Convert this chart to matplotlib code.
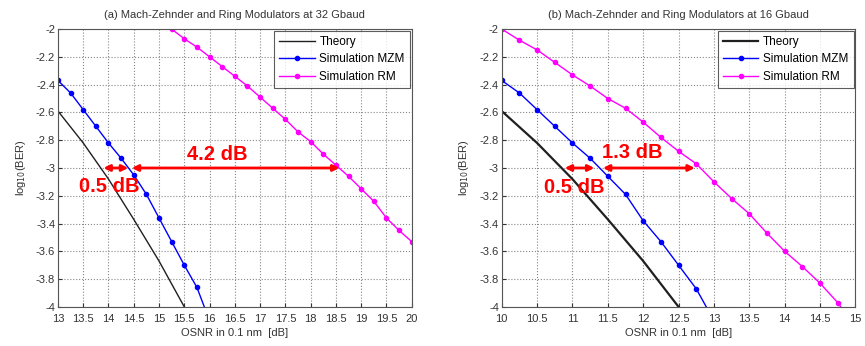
import matplotlib.pyplot as plt

plt.rcParams["font.family"] = ["Liberation Sans", "DejaVu Sans"]

# (a) 32 Gbaud
osnr_th_a = [13.0, 13.5, 14.0, 14.5, 15.0, 15.5]
ber_th_a = [-2.59, -2.82, -3.08, -3.37, -3.67, -4.00]
osnr_mzm_a = [13.0, 13.25, 13.5, 13.75, 14.0, 14.25, 14.5, 14.75, 15.0, 15.25, 15.5, 15.75, 16.0]
ber_mzm_a = [-2.37, -2.46, -2.58, -2.70, -2.82, -2.93, -3.05, -3.19, -3.36, -3.53, -3.70, -3.86, -4.10]
osnr_rm_a = [15.25, 15.5, 15.75, 16.0, 16.25, 16.5, 16.75, 17.0, 17.25, 17.5, 17.75, 18.0,
             18.25, 18.5, 18.75, 19.0, 19.25, 19.5, 19.75, 20.0]
ber_rm_a = [-2.00, -2.07, -2.13, -2.20, -2.27, -2.34, -2.41, -2.49, -2.57, -2.65, -2.74, -2.81,
            -2.90, -2.98, -3.06, -3.15, -3.24, -3.36, -3.45, -3.53]

# (b) 16 Gbaud
osnr_th_b = [10.0, 10.5, 11.0, 11.5, 12.0, 12.5]
ber_th_b = [-2.59, -2.82, -3.08, -3.37, -3.67, -4.00]
osnr_mzm_b = [10.0, 10.25, 10.5, 10.75, 11.0, 11.25, 11.5, 11.75, 12.0, 12.25, 12.5, 12.75, 13.0]
ber_mzm_b = [-2.37, -2.46, -2.58, -2.70, -2.82, -2.93, -3.06, -3.19, -3.38, -3.53, -3.70, -3.87, -4.10]
osnr_rm_b = [10.0, 10.25, 10.5, 10.75, 11.0, 11.25, 11.5, 11.75, 12.0, 12.25, 12.5, 12.75,
             13.0, 13.25, 13.5, 13.75, 14.0, 14.25, 14.5, 14.75, 15.0]
ber_rm_b = [-2.00, -2.08, -2.15, -2.24, -2.33, -2.41, -2.50, -2.57, -2.67, -2.78, -2.88, -2.97,
            -3.10, -3.22, -3.33, -3.47, -3.60, -3.71, -3.83, -3.97, -4.15]

panels = [
    dict(title="(a) Mach-Zehnder and Ring Modulators at 32 Gbaud",
         th=(osnr_th_a, ber_th_a), mzm=(osnr_mzm_a, ber_mzm_a), rm=(osnr_rm_a, ber_rm_a),
         xlim=(13, 20), xticks=[13 + 0.5 * i for i in range(15)], th_lw=1.0,
         arrows=[(13.9, 14.39), (14.46, 18.57)],
         labels=[("0.5 dB", 14.02, -3.13), ("4.2 dB", 16.15, -2.90)]),
    dict(title="(b) Mach-Zehnder and Ring Modulators at 16 Gbaud",
         th=(osnr_th_b, ber_th_b), mzm=(osnr_mzm_b, ber_mzm_b), rm=(osnr_rm_b, ber_rm_b),
         xlim=(10, 15), xticks=[10 + 0.5 * i for i in range(11)], th_lw=1.6,
         arrows=[(10.89, 11.31), (11.43, 12.73)],
         labels=[("0.5 dB", 11.03, -3.14), ("1.3 dB", 11.85, -2.89)]),
]

fig = plt.figure(figsize=(8.65, 3.46), dpi=100)
lefts = [0.067, 0.580]

for left, p in zip(lefts, panels):
    ax = fig.add_axes([left, 0.113, 0.409, 0.803])
    ax.plot(*p["th"], color="#202020", lw=p["th_lw"], label="Theory")
    ax.plot(*p["mzm"], color="#0000ff", lw=1.0, marker="o", ms=3, label="Simulation MZM")
    ax.plot(*p["rm"], color="#ff00ff", lw=1.0, marker="o", ms=3, label="Simulation RM")

    ax.set_xlim(*p["xlim"])
    ax.set_ylim(-4, -2)
    ax.set_xticks(p["xticks"])
    ax.set_xticklabels(["%g" % t for t in p["xticks"]])
    yt = [-4 + 0.2 * i for i in range(11)]
    ax.set_yticks(yt)
    ax.set_yticklabels(["%g" % round(t, 1) for t in yt])
    ax.tick_params(labelsize=8, colors="#333333", direction="in", length=3, pad=2)
    ax.tick_params(axis="x", pad=5)
    ax.grid(True, color="#888888", linestyle=":", linewidth=0.8)
    for s in ax.spines.values():
        s.set_color("#555555")

    ax.set_title(p["title"], fontsize=8, color="#333333", pad=8)
    ax.set_xlabel("OSNR in 0.1 nm  [dB]", fontsize=8, color="#333333", labelpad=3)
    ax.set_ylabel("log$_{10}$(BER)", fontsize=8, color="#333333", labelpad=6)

    leg = ax.legend(loc="upper right", fontsize=8.5, frameon=True, fancybox=False,
                    borderaxespad=0.15, handlelength=3.0, labelspacing=0.45,
                    borderpad=0.45, handletextpad=0.4)
    leg.get_frame().set_edgecolor("#333333")
    leg.get_frame().set_linewidth(0.8)

    for x0, x1 in p["arrows"]:
        ax.annotate("", xy=(x1, -3.0), xytext=(x0, -3.0),
                    arrowprops=dict(arrowstyle="<|-|>", color="#ff0000", lw=2,
                                    mutation_scale=9, shrinkA=0, shrinkB=0))
    for txt, x, y in p["labels"]:
        ax.text(x, y, txt, color="#ff0000", fontsize=14.5, fontweight="bold",
                ha="center", va="center")

fig.savefig("out.png", dpi=100)
